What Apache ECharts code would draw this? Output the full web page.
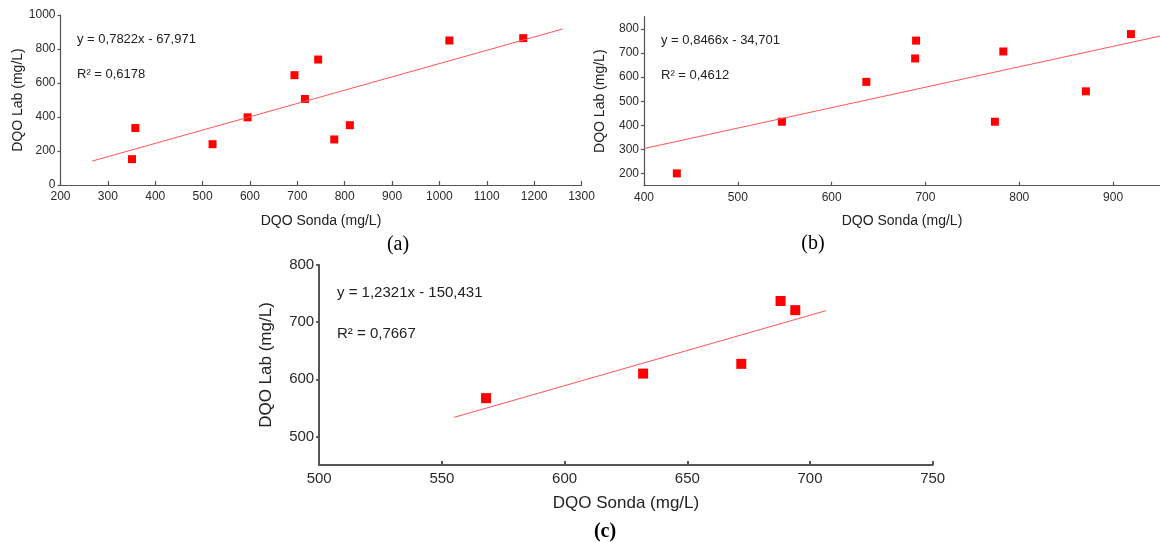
<!DOCTYPE html>
<html>
<head>
<meta charset="utf-8">
<style>
  html, body { margin: 0; padding: 0; background: #fff; }
  #chart { width: 1160px; height: 543px; }
</style>
<script src="https://cdn.jsdelivr.net/npm/echarts@6/dist/echarts.min.js"></script>
</head>
<body>
<div id="chart"></div>
<script>
// (a)
const sondaA = [351, 358, 521, 595, 694, 716, 744, 778, 811, 1021, 1177];
const labA = [152, 335, 240, 398, 646, 506, 738, 268, 352, 850, 864];
// (b)
const sondaB = [435, 547, 637, 689, 690, 774, 783, 871, 919];
const labB = [201, 415, 580, 677, 751, 415, 706, 541, 778];
// (c)
const sondaC = [568, 632, 672, 688, 694];
const labC = [567, 610, 627, 737, 721];

// fitted lines as printed on each panel
const slopes = [0.7822, 0.8466, 1.2321];
const intercepts = [-67.971, -34.701, -150.431];
const fitFrom = [267, 400, 555];
const fitTo = [1260, 950, 706.5];

const eqTexts = ['y = 0,7822x - 67,971', 'y = 0,8466x - 34,701', 'y = 1,2321x - 150,431'];
const r2Texts = ['R² = 0,6178', 'R² = 0,4612', 'R² = 0,7667'];
const panelTags = ['(a)', '(b)', '(c)'];

const xTitle = 'DQO Sonda (mg/L)';
const yTitle = 'DQO Lab (mg/L)';

const yTicksB = [200, 300, 400, 500, 600, 700, 800];
const yTicksC = [500, 600, 700, 800];

const sans = "'Liberation Sans', Arial, sans-serif";
const serif = "'Liberation Serif', 'Times New Roman', serif";

const xs = [sondaA, sondaB, sondaC];
const ys = [labA, labB, labC];

// styling per panel
const panels = [
  { grid: { left: 60.5, top: 15, width: 521, height: 170 }, fs: 12, nfs: 14, sym: 8, lw: 1.2,
    x: { min: 200, max: 1300, interval: 100 }, y: { min: 0, max: 1000, interval: 200 },
    xGap: 29, yGap: 35, eq: [77, 33, 68], tag: [398, 245], eqFs: 13 },
  { grid: { left: 644, top: 16.7, width: 519, height: 169 }, fs: 12, nfs: 14, sym: 8, lw: 1.2,
    x: { min: 400, max: 950, interval: 100 }, y: { min: 150, max: 850, ticks: yTicksB },
    xGap: 28, yGap: 37, eq: [661, 34, 69], tag: [813, 244], eqFs: 13 },
  { grid: { left: 319.2, top: 265, width: 613.5, height: 200 }, fs: 15, nfs: 17, sym: 10, lw: 2,
    x: { min: 500, max: 750, interval: 50 }, y: { min: 450, max: 800, ticks: yTicksC },
    xGap: 30, yGap: 44, eq: [337, 285, 326], tag: [605, 532], eqFs: 15, bold: true }
];

const plain = v => String(v);

const grids = [], xAxes = [], yAxes = [], series = [], graphics = [];

panels.forEach((p, i) => {
  grids.push(Object.assign({ containLabel: false }, p.grid));

  const lineStyle = { color: '#555', width: p.lw };
  xAxes.push({
    gridIndex: i, type: 'value',
    min: p.x.min, max: p.x.max, interval: p.x.interval,
    name: xTitle, nameLocation: 'middle', nameGap: p.xGap, nameMoveOverlap: false,
    nameTextStyle: { fontSize: p.nfs, color: '#222', fontFamily: sans },
    axisLine: { onZero: false, lineStyle: lineStyle },
    axisTick: { inside: true, length: 4, lineStyle: lineStyle },
    axisLabel: { fontSize: p.fs, color: '#2a2a2a', fontFamily: sans, margin: 6,
      showMaxLabel: i !== 1, formatter: plain },
    splitLine: { show: false }
  });

  const yAxis = {
    gridIndex: i, type: 'value',
    min: p.y.min, max: p.y.max,
    name: yTitle, nameLocation: 'middle', nameGap: p.yGap, nameRotate: 90, nameMoveOverlap: false,
    nameTextStyle: { fontSize: p.nfs, color: '#222', fontFamily: sans },
    axisLine: { show: true, onZero: false, lineStyle: lineStyle },
    axisTick: { show: true, inside: false, length: 3, lineStyle: lineStyle },
    axisLabel: { fontSize: p.fs, color: '#2a2a2a', fontFamily: sans, margin: 5, formatter: plain },
    splitLine: { show: false }
  };
  if (p.y.ticks) {
    yAxis.axisTick.customValues = p.y.ticks;
    yAxis.axisLabel.customValues = p.y.ticks;
  } else {
    yAxis.interval = p.y.interval;
  }
  yAxes.push(yAxis);

  series.push({
    type: 'line', xAxisIndex: i, yAxisIndex: i,
    data: [fitFrom[i], fitTo[i]].map(x => [x, slopes[i] * x + intercepts[i]]),
    symbol: 'none', silent: true, clip: true,
    lineStyle: { color: '#f55', width: 1 }
  });
  series.push({
    type: 'scatter', xAxisIndex: i, yAxisIndex: i,
    data: xs[i].map((x, k) => [x, ys[i][k]]),
    symbol: 'rect', symbolSize: p.sym,
    itemStyle: { color: '#ff0000', opacity: 1 }
  });

  graphics.push({
    type: 'text', left: p.eq[0], top: p.eq[1],
    style: { text: eqTexts[i], font: p.eqFs + 'px ' + sans, fill: '#222' }
  });
  graphics.push({
    type: 'text', left: p.eq[0], top: p.eq[2],
    style: { text: r2Texts[i], font: p.eqFs + 'px ' + sans, fill: '#222' }
  });
  graphics.push({
    type: 'text', x: p.tag[0], y: p.tag[1],
    style: {
      text: panelTags[i], font: (p.bold ? 'bold ' : '') + '20px ' + serif,
      fill: '#000', align: 'center', verticalAlign: 'middle'
    }
  });
});

const chart = echarts.init(document.getElementById('chart'), null, { renderer: 'canvas' });
chart.setOption({
  animation: false,
  backgroundColor: '#fff',
  grid: grids,
  xAxis: xAxes,
  yAxis: yAxes,
  series: series,
  graphic: graphics
});
</script>
</body>
</html>
